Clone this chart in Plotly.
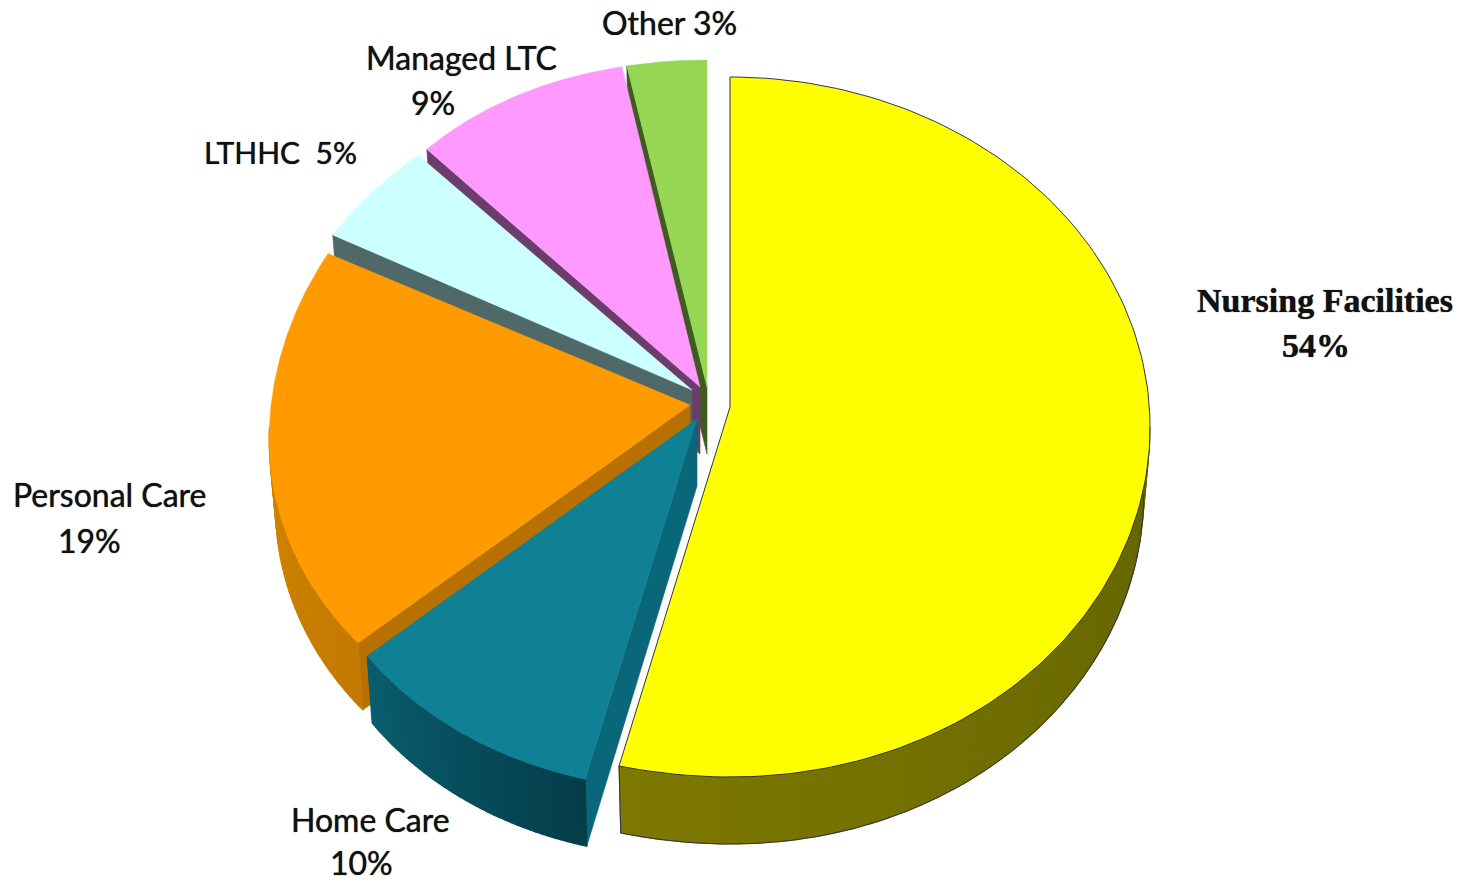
import numpy as np
import plotly.graph_objects as go

categories = ["Nursing Facilities", "Home Care", "Personal Care", "LTHHC", "Managed LTC", "Other"]
shares = [54, 10, 19, 5, 9, 3]

# Styles and placement, per slice (page pixels)
top_colors = ["#ffff00", "#108095", "#ff9a00", "#ccffff", "#ff99ff", "#95d655"]
cut_colors = ["#666600", "#0a6679", "#b87000", "#4f6868", "#6a3d6a", "#3f5a1f"]
side_from = ["#7c7800", "#0a5d6e", "#d08400", "#4f6868", "#6a3d6a", "#3f5a1f"]
side_to = ["#646400", "#053d4a", "#c47a00", "#4f6868", "#6a3d6a", "#3f5a1f"]
apex_x = [730, 697, 690, 692, 700, 707]
apex_y = [407, 419, 405, 390, 387, 387]
rim_cy = [427, 419, 427, 390, 387, 387]
rad_x_a = [420, 450, 431, 410, 399, 428]
rad_x_b = [446, 428, 413, 400, 417, 428]
rad_x_p = [8, 1, 1, 1, 1, 1]
rad_up = [350, 331, 360, 322, 326, 327]
rad_dn = [350, 372, 339, 373, 373, 373]
DEPTH = 67
TAPER = 0.985
draw_order = [5, 4, 3, 2, 1, 0]
label_pos = {
    "Nursing Facilities": ((1325, 300), (1316, 345)),
    "Home Care": ((370, 819), (361, 862)),
    "Personal Care": ((110, 494), (89, 540)),
    "Managed LTC": ((461, 57), (433, 102)),
}
inline_pos = {"LTHHC": (280, 152), "Other": (669, 22)}
inline_size = {"LTHHC": 30, "Other": 32}
FONT = "Lato"
FONT_SIZE = 32
TEXT = "#111111"
SHADOW = "0 0 1px #222222"

fractions = np.cumsum([0] + shares) / sum(shares)
fig = go.Figure()


def rim(i, t, depth=0.0, taper=1.0):
    t = np.asarray(t, dtype=float)
    t0, t1 = 2 * np.pi * fractions[i], 2 * np.pi * fractions[i + 1]
    c = np.cos(t)
    ry = np.where(c > 0, rad_up[i], rad_dn[i])
    w = ((t - t0) / (t1 - t0)) ** rad_x_p[i]
    rx = rad_x_a[i] + (rad_x_b[i] - rad_x_a[i]) * w
    return apex_x[i] + rx * taper * np.sin(t), rim_cy[i] - ry * c + depth


def poly(x, y, color, name, line=None, width=0.6):
    fig.add_trace(go.Scatter(
        x=list(x), y=list(y), mode="lines", fill="toself", fillcolor=color,
        line=dict(color=line or color, width=width), name=name,
        hoverinfo="name", showlegend=False,
    ))


def mix(a, b, u):
    pa = np.array([int(a[k:k + 2], 16) for k in (1, 3, 5)])
    pb = np.array([int(b[k:k + 2], 16) for k in (1, 3, 5)])
    p = (pa + (pb - pa) * u).round().astype(int)
    return "#%02x%02x%02x" % tuple(p)


for i in draw_order:
    name = f"{categories[i]} {shares[i]}%"
    t0, t1 = 2 * np.pi * fractions[i], 2 * np.pi * fractions[i + 1]
    outline = "#33334d" if i == 0 else None

    # cut face along the slice's starting edge
    if i > 0:
        ex, ey = rim(i, [t0])
        bx, by = rim(i, [t0], DEPTH, TAPER)
        poly([apex_x[i], ex[0], bx[0], apex_x[i], apex_x[i]],
             [apex_y[i], ey[0], by[0], apex_y[i] + DEPTH, apex_y[i]],
             cut_colors[i], name)

    # outer wall, only where the rim faces the viewer
    lo, hi = max(t0, np.pi / 2), min(t1, 3 * np.pi / 2)
    if hi > lo:
        edges = np.linspace(lo, hi, 41)
        for k in range(len(edges) - 1):
            seg = np.linspace(edges[k], edges[k + 1], 5)
            ux, uy = rim(i, seg)
            dx, dy = rim(i, seg[::-1], DEPTH, TAPER)
            u = 1 - k / (len(edges) - 2)
            poly(np.r_[ux, dx, ux[0]], np.r_[uy, dy, uy[0]],
                 mix(side_from[i], side_to[i], u), name, width=1.2)
        if i == 0:
            seg = np.linspace(lo, hi, 120)
            dx, dy = rim(i, seg, DEPTH, TAPER)
            ex, ey = rim(i, [hi])
            fig.add_trace(go.Scatter(
                x=np.r_[ex, dx[::-1]], y=np.r_[ey, dy[::-1]], mode="lines",
                line=dict(color="#33334d", width=1), hoverinfo="skip", showlegend=False))

    # top face
    arc = np.linspace(t0, t1, 160)
    ax, ay = rim(i, arc)
    poly(np.r_[apex_x[i], ax, apex_x[i]], np.r_[apex_y[i], ay, apex_y[i]],
         top_colors[i], name, line=outline, width=1 if outline else 0.5)

for i, cat in enumerate(categories):
    pct = f"{shares[i]}%"
    if cat in label_pos:
        if i == 0:
            f = dict(family="Liberation Serif", size=34, color="#111111", shadow=SHADOW)
        else:
            f = dict(family=FONT, size=FONT_SIZE, color=TEXT, shadow=SHADOW)
        (nx, ny), (px, py) = label_pos[cat]
        fig.add_annotation(x=nx, y=ny, text=f"<b>{cat}</b>" if i == 0 else cat, showarrow=False, font=f)
        fig.add_annotation(x=px, y=py, text=f"<b>{pct}</b>" if i == 0 else pct, showarrow=False, font=f)
    else:
        nx, ny = inline_pos[cat]
        sep = "\u00a0\u00a0" if cat == "LTHHC" else " "
        fig.add_annotation(x=nx, y=ny, text=cat + sep + pct, showarrow=False,
                           font=dict(family=FONT, size=inline_size[cat], color=TEXT, shadow=SHADOW))

fig.update_layout(
    width=1462, height=881, margin=dict(l=0, r=0, t=0, b=0),
    paper_bgcolor="white", plot_bgcolor="white", showlegend=False,
    xaxis=dict(range=[0, 1462], visible=False, fixedrange=True),
    yaxis=dict(range=[881, 0], visible=False, fixedrange=True),
)
fig.write_html("out.html", config=dict(displayModeBar=False),
               post_script="document.body.style.margin='0';document.documentElement.style.overflow='hidden';")
